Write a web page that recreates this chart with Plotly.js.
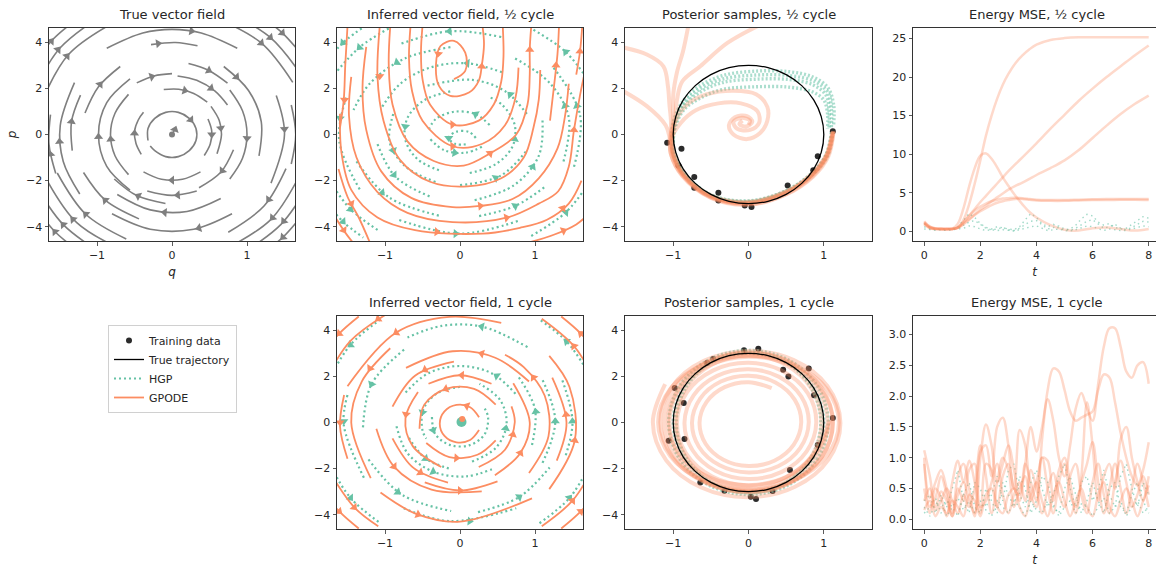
<!DOCTYPE html>
<html><head><meta charset="utf-8">
<script src="https://cdn.plot.ly/plotly-3.0.1.min.js"></script>
<style>html,body{margin:0;padding:0;background:#fff}#chart{width:1156px;height:567px}</style>
</head><body><div id="chart"></div>
<script>
// ---------------- DATA ----------------
// Streamlines: lists of [q, p] points; arrows: [q, p, heading(deg, clockwise from up)]
const trueStreams = [
 [[0,0],[.02,.12],[.04,.22]],
 [[-.32,-.26],[-.32,.26],[-.23,.70],[-.085,.96],[.085,.96],[.23,.70],[.32,.26],[.32,-.26],[.23,-.70],[.085,-.96],[-.085,-.96],[-.23,-.70],[-.29,-.50]],
 [[-.41,-.86],[-.48,-.39],[-.50,.13],[-.45,.63],[-.38,.96]],
 [[.48,.67],[.53,.14],[.51,-.41],[.43,-.91]],
 [[-.11,1.95],[.09,1.96],[.29,1.78],[.47,1.40]],
 [[.52,1.22],[.63,.61],[.66,0],[.60,-.84]],
 [[.38,-1.62],[.14,-1.94],[-.14,-1.94],[-.38,-1.62]],
 [[-.58,-1.74],[-.76,-.92],[-.82,0],[-.76,.92],[-.58,1.74]],
 [[.074,2.54],[.33,2.35],[.57,1.89],[.74,1.28]],
 [[.82,-.66],[.65,-1.64],[.36,-2.31]],
 [[-.47,2.24],[-.24,2.54],[0,2.64]],
 [[.33,-2.45],[0,-2.64],[-.33,-2.45]],
 [[-.56,-2.41],[-.87,-1.38],[-.98,0],[-.87,1.38],[-.56,2.41]],
 [[.77,1.93],[.94,1.03],[1,0],[.94,-1.03],[.77,-1.93]],
 [[-.087,-2.99],[-.47,-2.65],[-.77,-1.93]],
 [[.22,3.08],[.49,2.78],[.74,2.23]],
 [[-1.16,.93],[-.98,2.07],[-.69,2.95]],
 [[.65,-2.78],[.20,-3.34],[-.29,-3.27],[-.73,-2.60]],
 [[.80,-3.44],[.29,-4.11],[-.29,-4.11],[-.80,-3.44]],
 [[.69,2.95],[1.02,1.91],[1.19,.56],[1.16,-.93]],
 [[-.28,3.90],[.046,3.99],[.34,3.85]],
 [[-1.33,-.70],[-1.34,.56],[-1.22,1.71]],
 [[-1.23,-2.58],[-1.45,-1.17],[-1.49,.39],[-1.30,2.25]],
 [[1.39,1.69],[1.5,0],[1.32,-2.11]],
 [[-.87,3.74],[-.39,4.40],[0,4.56],[.39,4.40],[.87,3.74]],
 [[1.52,-1.48],[1.23,-3.09],[.75,-4.24]],
 [[-.44,-3.66],[-.89,-2.85],[-1.18,-1.65]],
 [[-.61,-4.53],[-1.15,-3.46],[-1.53,-1.67]],
 [[-1.74,1.40],[-1.38,3.47],[-.76,4.89]],
 [[-1.83,2.0],[-1.49,3.76],[-.98,5.07]],
 [[-1.90,2.66],[-1.61,4.05],[-1.20,5.16]],
 [[.61,5.02],[1.19,3.97],[1.61,2.26]],
 [[.81,5.22],[1.31,4.21],[1.66,2.88]],
 [[1.19,5.11],[1.47,4.41],[1.70,3.58]],
 [[1.69,-1.85],[1.32,-3.68],[.76,-4.89]],
 [[1.77,-2.47],[1.45,-3.91],[.98,-5.07]],
 [[1.82,-3.15],[1.48,-4.45],[1.20,-5.16]],
 [[-.62,-5.07],[-1.27,-3.82],[-1.69,-1.85]],
 [[-.98,-5.07],[-1.45,-3.91],[-1.77,-2.47]],
 [[-1.20,-5.16],[-1.56,-4.22],[-1.82,-3.15]],
 [[-1.55,-1.69],[-1.64,-.43],[-1.62,.86]],
 [[1.59,1.28],[1.65,0],[1.59,-1.28]]
];
const trueArrows = [[.04,.22,20],[.25,.64,140],[-.5,.05,2],[.53,0,180],[.17,1.91,105],[.65,.28,172],[0,-1.98,270],[-.817,-.21,355],[.52,2.01,128],[.67,-1.57,218],[-.27,2.51,72],[.077,-2.63,265],[-.98,-.10,358],[1.0,-.16,183],[-.45,-2.67,297],[.49,2.78,118],[-.96,2.17,37],[-.098,-3.38,275],[.36,-4.06,255],[.86,2.50,136],[-.185,3.95,82],[-1.34,.56,8],[-1.50,-.31,356],[1.5,.24,177],[.26,4.49,100],[1.29,-2.82,216],[-.89,-2.85,314],[-1.15,-3.46,314],[-1.40,3.40,39],[-1.52,3.68,39],[-1.61,4.05,40],[1.19,3.97,132],[1.31,4.21,133],[1.47,4.41,135],[1.34,-3.61,222],[1.49,-3.76,220],[1.48,-4.45,225],[-1.32,-3.68,317],[-1.45,-3.91,318],[-1.56,-4.22,320],[-1.62,-.86,350]];
const trueCenter = [[0,0]];

const gpodeHalfStreams = [
 [[-.08,2.4],[.07,2.76],[.07,3.55],[-.08,4.06],[-.26,3.84],[-.32,3.05],[-.28,2.11],[-.13,1.68],[.12,1.82],[.25,2.33],[.29,2.98],[.32,3.91],[.30,4.7]],
 [[-.5,4.7],[-.52,3.6],[-.5,2.4],[-.4,1.3],[-.1,.43],[.25,.6],[.45,1.3],[.55,2.3],[.58,3.4],[.57,4.7]],
 [[-.66,4.7],[-.68,3.3],[-.64,1.9],[-.5,.6],[-.1,-.51],[.3,-.4],[.6,.4],[.74,1.6],[.78,2.9]],
 [[-.93,4.7],[-.95,3.0],[-.9,1.3],[-.7,-.3],[-.35,-1.15],[.05,-1.35],[.4,-.82],[.75,0],[.9,1.3],[.93,2.6],[.93,3.7],[.95,4.7]],
 [[-1.07,4.7],[-1.1,2.5],[-1.02,.6],[-.8,-1.1],[-.4,-2.05],[.1,-2.25],[.55,-1.9],[.85,-1.0],[.98,.3],[1.05,1.5],[1.07,2.8]],
 [[-1.25,3.8],[-1.3,2.0],[-1.25,.2],[-1.05,-1.6],[-.65,-2.75],[-.1,-3.15],[.27,-3.1],[.7,-2.8],[1.05,-1.9],[1.3,-.6],[1.4,.8],[1.45,2.2]],
 [[-1.45,2.5],[-1.48,.8],[-1.38,-1.0],[-1.1,-2.5],[-.7,-3.4],[-.1,-3.8],[.62,-3.61],[1.05,-3.0],[1.31,-2.46],[1.45,-1.4],[1.52,.2],[1.6,1.7],[1.65,2.5]],
 [[-1.6,.9],[-1.58,-.8],[-1.45,-2.4],[-1.1,-3.6],[-.6,-4.15],[.3,-4.3],[.8,-4.05],[1.16,-3.7],[1.45,-3.0],[1.62,-2.0]],
 [[-1.62,-1.5],[-1.5,-2.7],[-1.35,-3.6],[-1.2,-4.7]],
 [[-1.68,-3.5],[-1.52,-4.3],[-1.4,-4.8]],
 [[.9,-4.7],[1.25,-4.35],[1.55,-3.9],[1.7,-3.5]],
 [[-1.5,4.7],[-1.53,3.0],[-1.55,1.5],[-1.6,.3]],
 [[1.2,.6],[1.25,2.0],[1.3,3.5],[1.32,4.7]],
 [[1.55,2.6],[1.6,3.6],[1.63,4.7]]
];
const gpodeHalfArrows = [[-.29,3.5,188],[.29,2.95,2],[-.1,.43,88],[-.1,-.51,88],[.4,-.82,50],[.93,3.68,0],[-1.07,2.53,182],[.27,-3.1,83],[.62,-3.61,78],[1.52,.2,3],[-.31,-4.22,95],[1.37,-3.2,35],[-1.45,-3.0,152],[-1.55,-4.15,147],[1.38,-4.17,65],[-1.54,1.5,182],[1.28,3.0,2],[1.6,3.6,2]];

const hgpHalfStreams = [
 [[.21,-.15],[.12,.11],[-.06,.11],[-.15,-.15],[-.06,-.41],[.12,-.41]],
 [[.395,.41],[.21,.88],[-.073,.99],[-.32,.68],[-.41,.26]],
 [[-.395,-.21],[-.21,-.68],[.073,-.79],[.32,-.48]],
 [[-.13,1.87],[-.48,1.48],[-.70,.72],[-.73,-.21],[-.57,-1.06],[-.25,-1.59]],
 [[.13,-1.67],[.48,-1.28],[.70,-.52],[.73,.41],[.57,1.26],[.37,1.66]],
 [[.89,.89],[.61,1.86],[.165,2.37],[-.475,2.09]],
 [[-.89,.89],[-.94,-.30],[-.73,-1.38],[-.325,-2.06]],
 [[0,-2.2],[.545,-1.78],[.89,-.69]],
 [[.56,2.7],[.098,3.09],[-.38,2.92],[-.79,2.22],[-1.05,1.13]],
 [[-1.10,-.42],[-.86,-1.83],[-.38,-2.72]],
 [[.195,-2.85],[.72,-2.2],[1.05,-.93],[1.10,.62]],
 [[1.38,-1.17],[1.45,.74],[1.20,2.22],[.735,3.3]],
 [[-.128,3.79],[-.735,3.3],[-1.20,2.22],[-1.42,1.06]],
 [[-1.38,-1.17],[-.945,-2.73],[-.255,-3.54]],
 [[.255,-3.54],[.735,-3.1],[1.13,-2.28]],
 [[-1.52,1.6],[-1.61,-.28],[-1.33,-2.42]],
 [[-.81,-3.71],[0,-4.3],[.81,-3.71]],
 [[1.52,-1.4],[1.60,.86],[1.24,2.93]],
 [[.55,4.23],[-.14,4.48],[-.81,3.91]],
 [[-.95,4.6],[-1.34,3.78],[-1.65,2.7]],
 [[-1.72,-2.1],[-1.46,-3.24],[-1.09,-4.16]],
 [[.95,-4.4],[1.41,-3.38],[1.72,-2.1]],
 [[1.72,2.3],[1.41,3.58],[.95,4.6]],
 [[-1.2,4.85],[-1.56,3.98],[-1.82,3.0]],
 [[-1.82,-2.8],[-1.56,-3.78],[-1.29,-4.47]]
];
const hgpHalfArrows = [[-.15,-.15,180],[.21,.88,300],[-.07,-.79,100],[-.73,.35,188],[.73,-.21,10],[.67,1.73,315],[-.89,-.69,160],[.475,-1.89,60],[.098,3.09,275],[-.88,-1.75,142],[.97,-1.4,30],[1.40,1.24,342],[-.84,3.13,235],[-1.04,-2.52,135],[.735,-3.1,60],[-1.60,.71,188],[-.057,-4.3,92],[1.56,1.24,345],[-.14,4.48,265],[-1.34,3.78,225],[-1.46,-3.24,140],[1.41,-3.38,42],[1.41,3.58,318],[-1.56,3.98,222],[-1.56,-3.78,138]];

const gpodeOneStreams = [
 [[.254,.23],[.135,.66],[-.047,.76],[-.207,.48],[-.27,-.05],[-.207,-.58],[-.047,-.86],[.135,-.76],[.254,-.33]],
 [[.476,.775],[.188,1.456],[-.188,1.456],[-.476,.775],[-.54,-.27]],
 [[-.45,-.89],[-.142,-1.50],[.232,-1.40],[.476,-.775]],
 [[.42,1.68],[0,2.05],[-.42,1.68]],
 [[-.56,1.32],[-.727,.18],[-.63,-1.025],[-.25,-1.93]],
 [[.25,-1.93],[.60,-1.18],[.73,0],[.686,.70]],
 [[-.081,2.64],[-.60,2.03],[-.90,.686]],
 [[-.90,-.686],[-.62,-1.97],[-.16,-2.61]],
 [[.465,-2.29],[.805,-1.325],[.93,0],[.71,1.70]],
 [[.92,1.78],[.47,2.81],[-.098,3.09],[-.72,2.37]],
 [[-1.115,-.27],[-.88,-1.91],[-.38,-2.91],[.29,-2.99]],
 [[.92,-2.19],[1.18,-.59],[1.13,1.16],[.85,2.40],[.6,2.94]],
 [[1.29,-1.65],[1.42,0],[1.23,1.95]],
 [[-.93,3.22],[-1.31,1.775],[-1.45,0],[-1.19,-2.41]],
 [[-.47,-2.60],[0,-2.95],[.5,-2.55]],
 [[-1.06,-3.04],[-.586,-3.96],[0,-4.3],[.96,-3.29]],
 [[.55,4.32],[-.14,4.58],[-.85,3.90],[-1.50,1.57]],
 [[1.19,-2.89],[1.53,-.78],[1.46,1.54],[1.19,2.89]],
 [[-1.79,-1.88],[-1.41,-3.68],[-1.09,-4.5]],
 [[-.95,4.76],[-1.46,3.54],[-1.79,1.88]],
 [[1.79,1.88],[1.52,3.31],[1.09,4.5]],
 [[1.09,-4.5],[1.50,-3.39],[1.79,-1.88]],
 [[-1.545,1.19],[-1.60,-.16],[-1.50,-1.57]],
 [[-1.35,4.6],[-1.61,3.86],[-1.82,3.0]],
 [[1.35,-4.6],[1.61,-3.86],[1.82,-3.0]],
 [[1.82,3.0],[1.61,3.86],[1.35,4.6]],
 [[-1.82,-3.0],[-1.61,-3.86],[-1.35,-4.6]]
];
const gpodeOneArrows = [[.092,.72,290],[-.188,1.456,250],[-.048,-1.54,95],[.025,2.05,272],[-.72,.356,190],[.705,-.53,15],[-.465,2.29,240],[-.53,-2.17,125],[.805,-1.325,30],[.29,2.99,285],[-.88,-1.91,142],[.98,1.95,325],[1.415,.34,355],[-1.2,2.35,214],[0,-2.95,90],[-.56,-3.99,112],[-.85,3.90,238],[1.53,-.78,10],[-1.41,-3.68,138],[-1.09,4.5,235],[1.52,3.31,323],[1.50,-3.39,38],[-1.6,0,180],[-1.61,3.86,230],[1.61,-3.86,50],[1.61,3.86,310],[-1.61,-3.86,130]];
const gpodeOneCenter = [[.03,.15]];

const hgpOneStreams = [
 [[-.374,.24],[-.33,-.50],[-.13,-.98],[.13,-.98],[.33,-.50],[.374,.24],[.33,.6]],
 [[0,1.55],[-.30,1.28],[-.49,.56],[-.50,-.34],[-.45,-.70]],
 [[.16,-1.69],[.475,-1.11],[.62,-.11],[.54,.95],[.26,1.68]],
 [[.74,1.25],[.425,2.13],[0,2.45],[-.425,2.13],[-.74,1.25]],
 [[-.847,-.16],[-.70,-1.33],[-.36,-2.13],[.074,-2.34],[.425,-2.03]],
 [[.96,-.98],[1.0,.57],[.78,1.98]],
 [[1.10,-1.75],[1.27,.05],[1.10,1.85]],
 [[.90,3.27],[.29,4.16],[-.243,4.19],[-.70,3.69]],
 [[-.746,3.16],[-1.18,1.66],[-1.295,-.28]],
 [[-1.50,1.19],[-1.55,-.10],[-1.27,-2.47]],
 [[-1.22,-1.60],[-.77,-3.14],[-.118,-3.84]],
 [[-.75,-3.72],[-.13,-4.28],[.75,-3.72]],
 [[.24,-3.89],[.79,-3.23],[1.195,-1.95]],
 [[-.68,-.67],[-.46,-1.56],[-.125,-2.02]],
 [[-1.06,4.47],[-1.46,3.37],[-1.74,1.90]],
 [[1.68,2.33],[1.42,3.52],[1.06,4.47]],
 [[-1.74,-1.80],[-1.46,-3.27],[-1.06,-4.37]],
 [[1.06,-4.37],[1.46,-3.27],[1.74,-1.80]],
 [[1.41,-1.42],[1.5,.05],[1.36,1.87]]
];
const hgpOneArrows = [[-.357,-.33,160],[-.50,.44,195],[.61,-.26,10],[.49,2.02,305],[-.36,-2.13,115],[1.01,.47,352],[1.27,.05,0],[.29,4.16,282],[-1.18,1.66,205],[-1.55,.05,180],[-.83,-3.02,128],[.13,-4.28,95],[.79,-3.23,55],[-.46,-1.56,130],[-1.46,3.37,232],[1.42,3.52,310],[-1.46,-3.27,142],[1.46,-3.27,38],[1.5,.05,358]];
const hgpOneCenter = [[.02,.02]];

// True trajectory (q, p)
const trueTrajQ = [1,.966,.866,.707,.5,.259,0,-.259,-.5,-.707,-.866,-.966,-1,-.966,-.866,-.707,-.5,-.259,0,.259,.5,.707,.866,.966,1];
const trueTrajP = [0,.776,1.5,2.121,2.598,2.898,3,2.898,2.598,2.121,1.5,.776,0,-.776,-1.5,-2.121,-2.598,-2.898,-3,-2.898,-2.598,-2.121,-1.5,-.776,0];

// Training data
const trainHalfQ = [-1.08,-.89,-.93,-.72,-.72,-.40,-.40,-.05,.04,.52,.86,.92,1.12];
const trainHalfP = [-.36,-.62,-1.34,-1.84,-2.31,-2.53,-2.86,-3.08,-3.15,-2.21,-1.55,-.94,.14];
const trainOneQ = [-.98,-.86,-.85,-1.06,-.64,-.32,.03,.10,-.06,.13,-.55,-.47,.46,.53,.87,.80,1.12,.92,.55,.32];
const trainOneP = [1.50,.85,-.72,-.79,-2.6,-2.96,-3.22,-3.32,3.13,3.2,2.58,2.76,2.29,2.0,1.18,2.34,.2,-.98,-2.06,-2.97];

// Posterior samples, 1/2 cycle
const gpodeHalfSamples = [
 [[1.12,.12],[1.04,-.9],[.84,-1.75],[.5,-2.5],[0,-2.95],[-.5,-2.68],[-.86,-1.78],[-1.0,-.85],[-1.02,-.1],[-1.0,.8],[-1.0,1.7],[-.95,2.7],[-.87,3.6],[-.8,4.7]],
 [[1.13,.15],[1.06,-.95],[.86,-1.82],[.5,-2.6],[0,-3.05],[-.5,-2.75],[-.88,-1.8],[-1.03,-.85],[-1.04,-.1],[-.98,.6],[-.95,1.5],[-.88,2.3],[-.64,2.96],[-.28,3.97],[.12,4.7]],
 [[1.12,.12],[1.04,-.92],[.84,-1.77],[.5,-2.52],[0,-2.97],[-.5,-2.7],[-.86,-1.78],[-1.01,-.85],[-1.03,-.1],[-1.03,.6],[-1.05,1.3],[-1.07,2.1],[-1.13,2.96],[-1.35,3.47],[-1.7,3.8]],
 [[1.13,.14],[1.05,-.93],[.85,-1.8],[.5,-2.58],[0,-3.02],[-.5,-2.73],[-.87,-1.8],[-1.03,-.86],[-1.05,-.1],[-1.1,.4],[-1.35,1.23],[-1.7,1.95]],
 [[1.11,.1],[1.03,-.9],[.83,-1.73],[.49,-2.48],[0,-2.92],[-.49,-2.66],[-.85,-1.76],[-.99,-.85],[-1.01,-.1],[-.95,.7],[-.8,1.35],[-.55,1.75],[-.2,1.9],[.1,1.75],[.25,1.2],[.25,.6],[.15,.05],[-.02,-.2],[-.2,0],[-.26,.4],[-.18,.75],[-.02,.8],[.05,.55],[-.03,.35],[-.12,.45],[-.08,.6]],
 [[1.12,.11],[1.04,-.91],[.84,-1.76],[.5,-2.52],[0,-2.98],[-.5,-2.7],[-.86,-1.78],[-1.0,-.86],[-1.02,-.2],[-.9,.5],[-.7,1.05],[-.4,1.35],[-.1,1.35],[.12,1.0],[.14,.5],[.02,.2],[-.15,.25],[-.2,.55],[-.1,.72],[.02,.6],[0,.42]]
];
const hgpHalfSamples = [
 [[1.12,.1],[1.04,-.9],[.85,-1.72],[.5,-2.48],[0,-2.92],[-.5,-2.66],[-.85,-1.76],[-1.0,-.85],[-1.02,-.2],[-1.0,.5],[-.9,1.3],[-.7,2.0],[-.35,2.55],[.1,2.75],[.55,2.72],[.85,2.5],[1.05,2.05],[1.13,1.3],[1.13,.4]],
 [[1.11,.1],[1.03,-.9],[.84,-1.7],[.49,-2.46],[0,-2.9],[-.49,-2.64],[-.84,-1.75],[-.99,-.85],[-1.0,-.2],[-.98,.5],[-.88,1.25],[-.68,1.9],[-.35,2.4],[.1,2.58],[.55,2.55],[.88,2.3],[1.06,1.8],[1.1,1.1],[1.1,.3]],
 [[1.12,.12],[1.05,-.92],[.85,-1.74],[.5,-2.5],[0,-2.94],[-.5,-2.67],[-.85,-1.77],[-1.0,-.86],[-1.0,-.2],[-.97,.5],[-.87,1.2],[-.66,1.8],[-.35,2.25],[.1,2.4],[.55,2.38],[.86,2.15],[1.03,1.7],[1.07,1.0],[1.07,.3]],
 [[1.1,.1],[1.03,-.88],[.83,-1.7],[.49,-2.45],[0,-2.88],[-.49,-2.63],[-.84,-1.74],[-.98,-.85],[-1.0,-.25],[-.96,.45],[-.85,1.1],[-.63,1.6],[-.35,1.95],[.1,2.07],[.55,2.05],[.85,1.85],[1.0,1.5],[1.05,.9],[1.05,.25]]
];

// Posterior samples, 1 cycle
const gpodeOneSamples = [
 [[1.08,.1],[.859,-1.388],[.492,-2.384],[0,-2.73],[-.483,-2.344],[-.83,-1.342],[-.95,0],[-.816,1.318],[-.467,2.263],[0,2.59],[.458,2.223],[.787,1.272],[.9,0],[.772,-1.248],[.442,-2.142],[0,-2.45],[-.433,-2.102],[-.743,-1.202],[-.85,0],[-.729,1.178],[-.417,2.021],[0,2.31],[.408,1.98],[.7,1.132],[.8,0],[.686,-1.108],[.392,-1.899],[0,-2.17],[-.383,-1.859],[-.657,-1.062],[-.75,0],[-.642,1.038],[-.367,1.778],[0,2.03],[.358,1.738],[.613,.992],[.7,0],[.599,-.968],[.342,-1.657],[0,-1.89],[-.333,-1.617],[-.57,-.922],[-.65,0],[-.556,.898],[-.317,1.536],[0,1.75],[.308,1.495]],
 [[1.12,.15],[.891,-1.337],[.518,-2.334],[0,-2.717],[-.527,-2.372],[-.919,-1.38],[-1.07,0],[-.934,1.402],[-.543,2.447],[0,2.847],[.552,2.484],[.963,1.445],[1.12,0],[.977,-1.467],[.568,-2.559],[0,-2.977],[-.577,-2.597],[-1.006,-1.51],[-1.17,0],[-1.02,1.532],[-.593,2.672],[0,3.107],[.602,2.709],[1.049,1.575],[1.22,0],[1.064,-1.597],[.618,-2.785],[0,-3.237],[-.627,-2.822],[-1.093,-1.64],[-1.27,0],[-1.107,1.662]],
 [[1.05,0],[.909,-1.525],[.525,-2.641],[0,-3.05],[-.525,-2.641],[-.909,-1.525],[-1.05,0],[-.909,1.525],[-.525,2.641],[0,3.05],[.525,2.641],[.909,1.525],[1.05,0]],
 [[.97,0],[.84,-1.455],[.485,-2.52],[0,-2.91],[-.485,-2.52],[-.84,-1.455],[-.97,0],[-.84,1.455],[-.485,2.52],[0,2.91],[.485,2.52],[.84,1.455],[.97,0]],
 [[1.12,0],[.97,-1.51],[.56,-2.615],[0,-3.02],[-.56,-2.615],[-.97,-1.51],[-1.12,0],[-.97,1.51],[-.56,2.615],[0,3.02],[.56,2.615],[.97,1.51],[1.12,0]],
 [[1.2,0],[1.039,-1.45],[.6,-2.511],[0,-2.9],[-.6,-2.511],[-1.039,-1.45],[-1.2,0],[-1.039,1.45],[-.6,2.511],[0,2.9],[.6,2.511],[1.039,1.45],[1.2,0]]
];
const hgpOneSamples = [
 [[1,0],[.866,-1.5],[.5,-2.598],[0,-3],[-.5,-2.598],[-.866,-1.5],[-1,0],[-.866,1.5],[-.5,2.598],[0,3],[.5,2.598],[.866,1.5],[1,0]],
 [[1.06,0],[.918,-1.565],[.53,-2.711],[0,-3.13],[-.53,-2.711],[-.918,-1.565],[-1.06,0],[-.918,1.565],[-.53,2.711],[0,3.13],[.53,2.711],[.918,1.565],[1.06,0]],
 [[.96,0],[.831,-1.525],[.48,-2.641],[0,-3.05],[-.48,-2.641],[-.831,-1.525],[-.96,0],[-.831,1.525],[-.48,2.641],[0,3.05],[.48,2.641],[.831,1.525],[.96,0]]
];

// Energy MSE
const tHalf = [0,.2,.4,.6,.8,1,1.2,1.4,1.6,1.8,2,2.2,2.4,2.6,2.8,3,3.25,3.5,3.75,4,4.5,5,5.5,6,6.5,7,7.5,8];
const mseHalfGpode = [
 [1.2,.6,.4,.35,.3,.3,.5,1.5,3.5,6.2,9.2,12.4,15.0,17.2,19.0,20.4,21.8,22.8,23.6,24.2,24.8,25.05,25.15,25.15,25.15,25.15,25.15,25.15],
 [1.1,.5,.35,.3,.3,.3,.5,1.2,2.0,2.9,3.8,4.6,5.4,6.2,7.0,7.8,8.7,9.6,10.5,11.4,13.3,15.1,16.9,18.5,20.0,21.4,22.8,24.1],
 [1.0,.45,.3,.3,.25,.3,.45,1.0,1.6,2.2,2.8,3.3,3.9,4.4,4.9,5.4,5.9,6.3,6.8,7.3,8.2,9.2,10.5,12.1,13.7,15.2,16.5,17.6],
 [1.3,.6,.35,.3,.3,.35,1.0,3.0,5.8,8.2,9.8,10.1,9.4,8.3,7.0,5.9,4.6,3.5,2.5,1.8,.8,.2,.1,.4,.5,.3,.1,.3],
 [1.1,.5,.3,.3,.3,.3,.5,1.2,2.0,2.7,3.2,3.6,3.9,4.1,4.25,4.3,4.35,4.3,4.2,4.1,4.05,4.05,4.1,4.15,4.2,4.2,4.2,4.2],
 [.9,.4,.3,.25,.3,.3,.45,.9,1.5,2.1,2.6,3.0,3.4,3.7,3.9,4.05,4.2,4.2,4.1,4.0,3.95,3.95,4.0,4.05,4.05,4.1,4.1,4.05]
];
const tGrid = [0,.2,.4,.6,.8,1,1.2,1.4,1.6,1.8,2,2.2,2.4,2.6,2.8,3,3.2,3.4,3.6,3.8,4,4.2,4.4,4.6,4.8,5,5.2,5.4,5.6,5.8,6,6.2,6.4,6.6,6.8,7,7.2,7.4,7.6,7.8,8];
const mseHalfHgp = [
 [1.0,.5,.3,.3,.3,.3,.6,1.5,2.3,1.8,1.0,.5,.3,.6,.4,.3,.2,.6,1.5,2.3,1.8,1.0,.6,.9,.4,.2,.3,.8,1.6,2.2,2.0,1.2,.8,1.0,.5,.3,.4,.9,1.4,1.9,1.7],
 [.6,.3,.2,.2,.25,.3,.4,.8,1.2,1.4,.9,.4,.2,.3,.5,.2,.1,.4,.9,1.3,1.4,.8,.3,.5,.7,.3,.1,.4,.9,1.3,1.5,.9,.4,.6,.9,.4,.2,.5,.9,1.3,1.2],
 [.3,.2,.15,.2,.1,.2,.3,.4,.7,.6,.3,.1,.2,.1,.2,.1,.05,.2,.4,.6,.7,.4,.1,.2,.3,.1,.05,.2,.4,.7,.6,.3,.1,.3,.2,.1,.1,.3,.5,.7,.6]
];
const mseOneGpode = [
 [1.12,.7,.2,.45,.3,.05,.4,.6,.3,.1,1.0,1.54,1.2,.6,.9,1.2,.8,.3,.9,1.5,1.1,1.5,1.95,1.6,1.0,.7,1.2,1.8,2.05,1.8,1.6,2.2,2.8,3.1,3.1,2.8,2.4,2.3,2.5,2.55,2.2],
 [.9,.35,.6,.8,.5,.1,.7,.9,.5,.05,1.1,1.2,.7,1.5,1.65,1.2,.5,.4,.9,.6,.3,1.3,2.1,2.45,2.4,2.1,1.75,1.6,1.65,1.7,1.75,2.1,2.35,2.3,1.9,1.4,1.0,.7,.55,.8,1.25],
 [.5,.1,.5,.35,.05,.6,.95,.6,.95,.6,.1,.9,.8,.2,.7,.9,.5,1.45,1.2,.4,.2,1.0,.95,.3,.8,1.0,.6,.1,.7,1.9,1.2,.3,.7,.9,.5,1.3,1.5,1.0,.6,.3,.7],
 [.3,.5,.15,.3,.5,.3,.1,.4,.2,.5,1.2,.7,.1,.6,1.0,.8,.2,.5,.7,.3,.6,1.0,.5,.1,.6,.9,.4,.2,.6,.9,1.25,.6,.1,.5,.9,.5,.1,.5,.9,.6,.2],
 [.15,.3,.05,.2,.1,.3,.2,.05,.4,.3,.05,.4,.5,.2,.1,.4,.5,.2,.05,.4,.6,.3,.05,.4,.6,.3,.05,.3,.5,.2,.05,.4,.6,.2,.05,.3,.5,.3,.05,.3,.55],
 [1.0,.2,.35,.7,.4,.05,.5,.3,.8,.9,.2,.3,.6,.9,.4,.1,.4,.6,.3,.8,.5,.1,.5,.75,.4,.2,.7,.9,.4,.1,.6,.9,.4,.1,.6,.95,.6,.2,.4,.7,.4]
];
const mseOneHgp = [
 [.3,.4,.1,.4,.2,.5,.8,.3,.1,.6,.5,.2,.4,.7,.3,.8,.9,.4,.2,.6,.8,.5,.2,.4,.7,.9,.5,.2,.6,.7,.3,.5,.8,.4,.2,.7,.9,.5,.2,.6,.4],
 [.1,.2,.35,.1,.3,.2,.05,.4,.6,.2,.1,.5,.3,.1,.6,.4,.2,.7,.5,.1,.3,.7,.6,.2,.1,.5,.7,.4,.1,.3,.6,.3,.1,.5,.6,.2,.1,.4,.6,.3,.1],
 [.2,.05,.25,.3,.05,.2,.35,.15,.3,.1,.3,.15,.05,.3,.2,.1,.3,.2,.05,.3,.15,.1,.3,.25,.05,.2,.3,.1,.25,.2,.05,.2,.35,.1,.2,.3,.05,.2,.3,.1,.2]
];

const panelTitles = ['True vector field','Inferred vector field, ½ cycle','Posterior samples, ½ cycle','Energy MSE, ½ cycle','Inferred vector field, 1 cycle','Posterior samples, 1 cycle','Energy MSE, 1 cycle'];
const legendLabels = ['Training data','True trajectory','HGP','GPODE'];

// ---------------- STYLE ----------------
const W = 1156, H = 567;
const FONT = '"DejaVu Sans", Lato, sans-serif';
const GRAY = '#7f7f7f', ORANGE = '#fc8d62', GREEN = '#66c2a5';
const ORANGE_A = 'rgba(252,141,98,0.33)', GREEN_A = 'rgba(102,194,165,0.55)';
const px = (a, b) => [a / W, b / W];
const py = (top, bottom) => [1 - bottom / H, 1 - top / H];

const traces = [];
function streams(lines, arrows, color, dash, width, xa, ya, legend) {
  const x = [], y = [];
  lines.forEach(l => { l.forEach(pt => { x.push(pt[0]); y.push(pt[1]); }); x.push(null); y.push(null); });
  traces.push({type:'scatter', mode:'lines', x, y, xaxis:xa, yaxis:ya, connectgaps:false, hoverinfo:'skip',
    line:{color, width, dash, shape:'spline', smoothing:1},
    showlegend: !!legend, name: legend ? legend[0] : '', legendrank: legend ? legend[1] : 1000});
  traces.push({type:'scatter', mode:'markers', x: arrows.map(a => a[0]), y: arrows.map(a => a[1]), xaxis:xa, yaxis:ya,
    hoverinfo:'skip', showlegend:false,
    marker:{symbol:'triangle-up', size:8, angle: arrows.map(a => a[2]), color, line:{width:0}}});
}
function dots(pts, color, size, xa, ya) {
  traces.push({type:'scatter', mode:'markers', x: pts.map(p => p[0]), y: pts.map(p => p[1]), xaxis:xa, yaxis:ya,
    hoverinfo:'skip', showlegend:false, marker:{color, size, line:{width:0}}});
}
function samples(list, color, width, dash, xa, ya) {
  list.forEach(s => traces.push({type:'scatter', mode:'lines', x: s.map(p => p[0]), y: s.map(p => p[1]),
    xaxis:xa, yaxis:ya, hoverinfo:'skip', showlegend:false, line:{color, width, dash, shape:'spline', smoothing:1}}));
}
function series(t, list, color, width, dash, shape, xa, ya) {
  list.forEach(v => traces.push({type:'scatter', mode:'lines', x: t, y: v, xaxis:xa, yaxis:ya, hoverinfo:'skip',
    showlegend:false, line:{color, width, dash, shape, smoothing:1}}));
}
function trueTraj(xa, ya, legend) {
  traces.push({type:'scatter', mode:'lines', x: trueTrajQ, y: trueTrajP, xaxis:xa, yaxis:ya, hoverinfo:'skip',
    line:{color:'#000', width:1.3, shape:'spline', smoothing:1},
    showlegend: !!legend, name: legendLabels[1], legendrank: 2});
}
function train(q, p, xa, ya, legend) {
  traces.push({type:'scatter', mode:'markers', x: q, y: p, xaxis:xa, yaxis:ya, hoverinfo:'skip',
    marker:{color:'rgba(25,25,25,0.92)', size:6, line:{width:0}},
    showlegend: !!legend, name: legendLabels[0], legendrank: 1});
}

// Panel 1: true vector field
streams(trueStreams, trueArrows, GRAY, 'solid', 1.6, 'x', 'y');
dots(trueCenter, GRAY, 6, 'x', 'y');
// Panel 2: inferred 1/2 cycle
streams(hgpHalfStreams, hgpHalfArrows, GREEN, '2px,3px', 2.2, 'x2', 'y2', [legendLabels[2], 3]);
streams(gpodeHalfStreams, gpodeHalfArrows, ORANGE, 'solid', 1.8, 'x2', 'y2', [legendLabels[3], 4]);
// Panel 3: posterior 1/2 cycle
train(trainHalfQ, trainHalfP, 'x3', 'y3', true);
samples(hgpHalfSamples, GREEN_A, 3.4, '2px,2px', 'x3', 'y3');
samples(gpodeHalfSamples, ORANGE_A, 4, 'solid', 'x3', 'y3');
trueTraj('x3', 'y3', true);
// Panel 4: energy 1/2 cycle
series(tGrid, mseHalfHgp, 'rgba(102,194,165,0.6)', 1.4, '1.5px,3.5px', 'linear', 'x4', 'y4');
series(tHalf, mseHalfGpode, ORANGE_A, 2.5, 'solid', 'spline', 'x4', 'y4');
// Panel 5: inferred 1 cycle
streams(hgpOneStreams, hgpOneArrows, GREEN, '2px,3px', 2.2, 'x5', 'y5');
streams(gpodeOneStreams, gpodeOneArrows, ORANGE, 'solid', 1.8, 'x5', 'y5');
dots(hgpOneCenter, GREEN, 10, 'x5', 'y5');
dots(gpodeOneCenter, ORANGE, 6, 'x5', 'y5');
// Panel 6: posterior 1 cycle
train(trainOneQ, trainOneP, 'x6', 'y6');
samples(hgpOneSamples, GREEN_A, 3.4, '2px,2px', 'x6', 'y6');
samples(gpodeOneSamples, ORANGE_A, 4, 'solid', 'x6', 'y6');
trueTraj('x6', 'y6');
// Panel 7: energy 1 cycle
series(tGrid, mseOneHgp, 'rgba(102,194,165,0.6)', 1.4, '1.5px,3.5px', 'linear', 'x7', 'y7');
series(tGrid, mseOneGpode, ORANGE_A, 2.5, 'solid', 'spline', 'x7', 'y7');

const tickFont = {family: FONT, size: 11, color: '#262626'};
function axis(domain, range, tickvals, extra) {
  return Object.assign({domain, range, tickvals, showgrid:false, zeroline:false, showline:true, linecolor:'#333',
    linewidth:1, mirror:true, ticks:'outside', ticklen:3.5, tickwidth:0.8, tickcolor:'#333', tickfont:tickFont,
    fixedrange:true}, extra || {});
}
const Q = [-1.64, 1.64], P = [-4.62, 4.62];
const qt = [-1, 0, 1], pt = [-4, -2, 0, 2, 4];
const topY = py(28, 241), botY = py(316, 529);
const c1 = px(49, 295), c2 = px(337, 583), c3 = px(625, 872), c4 = [913 / W, 1];
const axTitle = t => ({text: t, font: {family: FONT, size: 12, color: '#262626'}, standoff: 6});

const layout = {
  width: W, height: H, margin: {l:0, r:0, t:0, b:0}, paper_bgcolor:'#fff', plot_bgcolor:'#fff',
  font: {family: FONT, color: '#262626'},
  xaxis: axis(c1, Q, qt, {anchor:'y', title: axTitle('<i>q</i>')}),
  yaxis: axis(topY, P, pt, {anchor:'x', title: axTitle('<i>p</i>')}),
  xaxis2: axis(c2, Q, qt, {anchor:'y2'}),
  yaxis2: axis(topY, P, pt, {anchor:'x2'}),
  xaxis3: axis(c3, Q, qt, {anchor:'y3'}),
  yaxis3: axis(topY, P, pt, {anchor:'x3'}),
  xaxis4: axis(c4, [-0.4, 8.26], [0,2,4,6,8], {anchor:'y4', title: axTitle('<i>t</i>')}),
  yaxis4: axis(topY, [-1.255, 26.36], [0,5,10,15,20,25], {anchor:'x4', mirror:false}),
  xaxis5: axis(c2, Q, qt, {anchor:'y5'}),
  yaxis5: axis(botY, P, pt, {anchor:'x5'}),
  xaxis6: axis(c3, Q, qt, {anchor:'y6'}),
  yaxis6: axis(botY, P, pt, {anchor:'x6'}),
  xaxis7: axis(c4, [-0.4, 8.26], [0,2,4,6,8], {anchor:'y7', title: axTitle('<i>t</i>')}),
  yaxis7: axis(botY, [-0.157, 3.30], [0,0.5,1,1.5,2,2.5,3], {anchor:'x7', mirror:false, tickformat:'.1f'}),
  showlegend: true,
  legend: {x: 108 / W, y: 1 - 325 / H, xanchor:'left', yanchor:'top', bgcolor:'#fff', bordercolor:'#d0d0d0',
    borderwidth:1, font:{family: FONT, size: 11, color:'#262626'}, traceorder:'normal', tracegroupgap:0},
  annotations: panelTitles.map((t, i) => {
    const cx = [172, 460, 748.5, 1036.5, 460, 748.5, 1036.5][i];
    const cy = i < 4 ? 14.5 : 302.5;
    return {text: t, xref:'paper', yref:'paper', x: cx / W, y: 1 - cy / H, xanchor:'center', yanchor:'middle',
      showarrow:false, font:{family: FONT, size: 13, color:'#262626'}};
  })
};
Plotly.newPlot('chart', traces, layout, {staticPlot: true, displayModeBar: false});
</script></body></html>
